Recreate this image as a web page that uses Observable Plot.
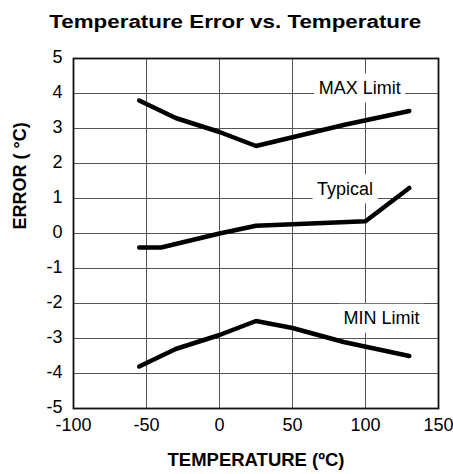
<!DOCTYPE html>
<html><head><meta charset="utf-8">
<script src="https://cdn.jsdelivr.net/npm/d3@7"></script>
<script src="https://cdn.jsdelivr.net/npm/@observablehq/plot@0.6"></script>
<style>
body{margin:0;background:#fff;font-family:"Liberation Sans",Arial,sans-serif;}
#title{box-sizing:border-box;width:453px;height:42px;line-height:44px;text-align:center;font-weight:bold;font-size:18.8px;padding-left:17px;color:#000;white-space:nowrap;}
#title span{display:inline-block;transform:scaleX(1.19);transform-origin:50% 50%;}
</style></head><body>
<div id="title"><span>Temperature Error vs. Temperature</span></div>
<div id="chart"></div>
<script>
// Data
const maxTemp = [-55, -30, 0, 25, 85, 130];
const maxErr  = [3.8, 3.3, 2.9, 2.5, 3.1, 3.5];
const typTemp = [-55, -40, -30, 0, 25, 100, 130];
const typErr  = [-0.4, -0.4, -0.3, 0, 0.22, 0.35, 1.3];
const minTemp = [-55, -30, 0, 25, 50, 85, 130];
const minErr  = [-3.8, -3.3, -2.9, -2.5, -2.7, -3.1, -3.5];

const labelNames = ["MAX Limit", "Typical", "MIN Limit"];
const labelTemp  = [96, 86, 111];
const labelErr   = [4.15, 1.27, -2.43];

const xTicks = [-100, -50, 0, 50, 100, 150];
const yTicks = [-5, -4, -3, -2, -1, 0, 1, 2, 3, 4, 5];
const xTitle = "TEMPERATURE (ºC)";
const yTitle = "ERROR ( °C)";

const series = [
  ...maxTemp.map((t, i) => ({s: "max", t, e: maxErr[i]})),
  ...typTemp.map((t, i) => ({s: "typ", t, e: typErr[i]})),
  ...minTemp.map((t, i) => ({s: "min", t, e: minErr[i]}))
];
const labels = labelNames.map((n, i) => ({n, t: labelTemp[i], e: labelErr[i]}));

const plot = Plot.plot({
  width: 453,
  height: 432,
  marginTop: 16,
  marginBottom: 66,
  marginLeft: 73,
  marginRight: 15,
  style: {fontFamily: "Liberation Sans, Arial, sans-serif", fontSize: "18px", color: "#000", background: "#fff", overflow: "visible"},
  x: {domain: [-100, 150], ticks: xTicks, tickSize: 0, tickPadding: 9.5, label: null, tickFormat: d => String(d)},
  y: {domain: [-5, 5], ticks: yTicks, tickSize: 0, tickPadding: 11, label: null, tickFormat: d => String(d)},
  marks: [
    Plot.ruleX(xTicks.slice(1, -1), {stroke: "#555", strokeWidth: 1}),
    Plot.ruleY(yTicks.slice(1, -1), {stroke: "#555", strokeWidth: 1}),
    Plot.frame({stroke: "#111", strokeWidth: 1.8}),
    Plot.text(labels, {x: "t", y: "e", text: "n", fill: "#000", fontSize: 18}),
    Plot.line(series, {x: "t", y: "e", z: "s", stroke: "#000", strokeWidth: 4.5, strokeLinejoin: "round", strokeLinecap: "round"}),
    Plot.text([xTitle], {frameAnchor: "bottom", dy: 57, fontWeight: "bold", fontSize: 18.5, fill: "#000"}),
    Plot.text([yTitle], {frameAnchor: "left", dx: -53, dy: -4, rotate: -90, fontWeight: "bold", fontSize: 18, fill: "#000"})
  ]
});
document.getElementById("chart").append(plot);

// white boxes behind the curve labels (sized from the rendered text)
plot.querySelectorAll("text").forEach(t => {
  if (!labelNames.includes(t.textContent)) return;
  const b = t.getBBox();
  const r = document.createElementNS("http://www.w3.org/2000/svg", "rect");
  r.setAttribute("x", b.x - 4.5);
  r.setAttribute("y", b.y - 4.5);
  r.setAttribute("width", b.width + 9);
  r.setAttribute("height", b.height + 9);
  r.setAttribute("fill", "#fff");
  r.setAttribute("stroke", "none");
  const tr = t.getAttribute("transform");
  if (tr) r.setAttribute("transform", tr);
  t.parentNode.insertBefore(r, t);
});
// nudge y tick labels slightly upward like the reference
plot.querySelectorAll("g[aria-label]").forEach(g => {
  const a = g.getAttribute("aria-label");
  if (a.startsWith("y-axis") && g.querySelector("text")) {
    const tr = g.getAttribute("transform") || "";
    g.setAttribute("transform", tr + " translate(0,-1.5)");
  }
});
</script>
</body></html>
